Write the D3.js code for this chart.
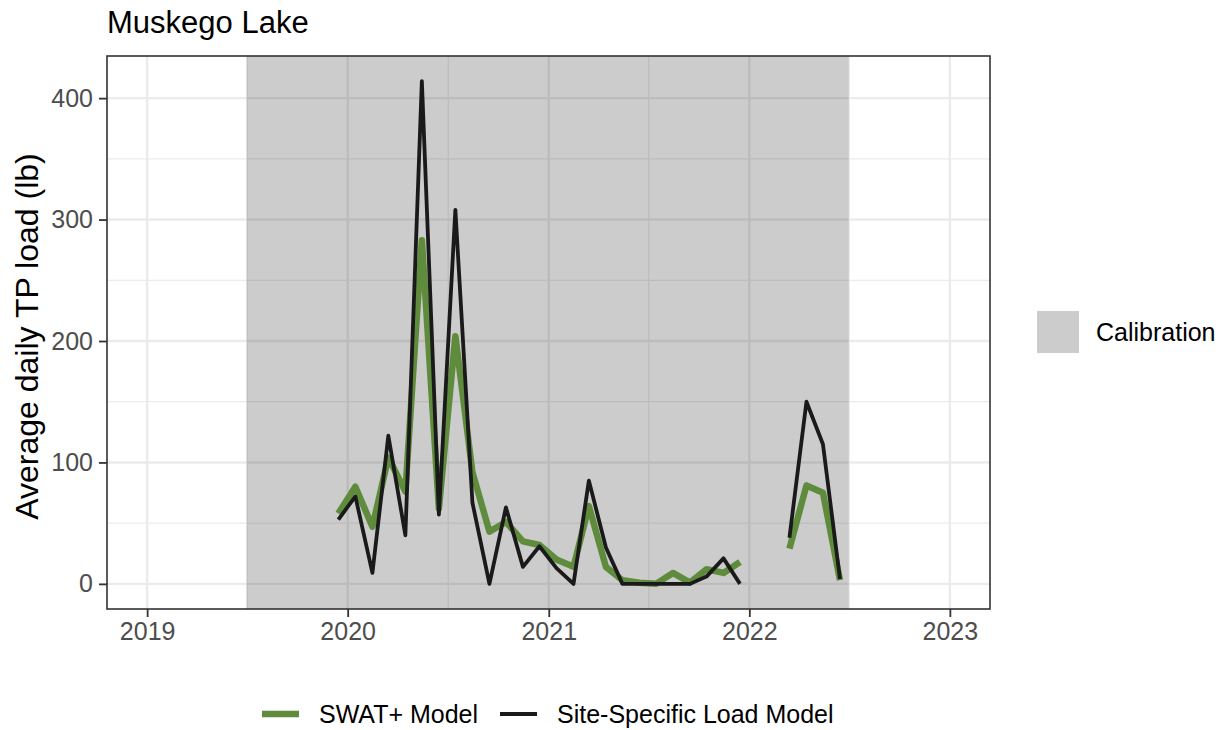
<!DOCTYPE html>
<html><head><meta charset="utf-8">
<script src="https://cdn.jsdelivr.net/npm/d3@7"></script>
<style>body{margin:0;background:#fff}svg{display:block;font-family:"Liberation Sans",Arial,sans-serif}</style>
</head><body>
<svg id="c" width="1228" height="730"></svg>
<script>
// ---- data ----
const months = ["2019-12","2020-01","2020-02","2020-03","2020-04","2020-05","2020-06","2020-07","2020-08","2020-09","2020-10","2020-11","2020-12",
  "2021-01","2021-02","2021-03","2021-04","2021-05","2021-06","2021-07","2021-08","2021-09","2021-10","2021-11","2021-12",
  "2022-01","2022-02","2022-03","2022-04","2022-05","2022-06"];
const swatValues = [58,80,47,104,76,283,62,204,92,43,51,35,32,20,14,64,14,3,1,0,9,1,12,9,18,null,null,29,81,75,3];
const siteValues = [53,72,9,122,40,414,57,308,67,0,63,14,31,13,0,85,30,0,0,0,0,0,6,21,0,null,null,38,150,115,4];
const xTickYears = [2019,2020,2021,2022,2023];
const yTicks = [0,100,200,300,400];
const yMinor = [50,150,250,350];
const calibration = ["2019-07-01","2022-07-01"];
const seriesNames = ["SWAT+ Model","Site-Specific Load Model"];
const title = "Muskego Lake";
const yTitle = "Average daily TP load (lb)";

const colors = {swat:"#5e8c3c", site:"#1a1a1a"};
const svg = d3.select("#c");
const P = {l:107, r:990, t:56, b:609};

const parse = d3.timeParse("%Y-%m-%d");
const dates = months.map(m => parse(m + "-15"));
const lim0 = new Date(2019,0,1), lim1 = new Date(2023,0,1);
const pad = (lim1 - lim0) * 0.05;
const x = d3.scaleTime().domain([new Date(+lim0 - pad), new Date(+lim1 + pad)]).range([P.l, P.r]);
const all = swatValues.concat(siteValues).filter(v => v != null);
const ymax = d3.max(all), ymin = d3.min(all), yr = ymax - ymin;
const y = d3.scaleLinear().domain([ymin - 0.05*yr, ymax + 0.05*yr]).range([P.b, P.t]);

// panel bg
svg.append("rect").attr("x",P.l).attr("y",P.t).attr("width",P.r-P.l).attr("height",P.b-P.t).attr("fill","#fff");
const g = svg.append("g");
// minor grid
const xMinor = xTickYears.map(yy => new Date(yy,6,2));
xMinor.push(new Date(2018,6,2));
g.selectAll(".vxm").data(xMinor.filter(d => x(d) > P.l && x(d) < P.r)).enter().append("line")
  .attr("x1",d=>x(d)).attr("x2",d=>x(d)).attr("y1",P.t).attr("y2",P.b).attr("stroke","#ebebeb").attr("stroke-width",1.2);
g.selectAll(".hym").data(yMinor).enter().append("line")
  .attr("x1",P.l).attr("x2",P.r).attr("y1",d=>y(d)).attr("y2",d=>y(d)).attr("stroke","#ebebeb").attr("stroke-width",1.2);
// major grid
g.selectAll(".vx").data(xTickYears).enter().append("line")
  .attr("x1",d=>x(new Date(d,0,1))).attr("x2",d=>x(new Date(d,0,1))).attr("y1",P.t).attr("y2",P.b).attr("stroke","#ebebeb").attr("stroke-width",2.4);
g.selectAll(".hy").data(yTicks).enter().append("line")
  .attr("x1",P.l).attr("x2",P.r).attr("y1",d=>y(d)).attr("y2",d=>y(d)).attr("stroke","#ebebeb").attr("stroke-width",2.4);

// calibration rect
const c0 = parse(calibration[0]), c1 = parse(calibration[1]);
svg.append("rect").attr("x",x(c0)).attr("y",P.t).attr("width",x(c1)-x(c0)).attr("height",P.b-P.t)
  .attr("fill","#000").attr("fill-opacity",0.2);

// lines
const mk = vals => d3.line().defined((d,i)=>vals[i]!=null).x((d,i)=>x(dates[i])).y((d,i)=>y(vals[i]));
svg.append("path").datum(swatValues).attr("d",mk(swatValues)).attr("fill","none").attr("stroke",colors.swat)
  .attr("stroke-width",6.5).attr("stroke-linejoin","round");
svg.append("path").datum(siteValues).attr("d",mk(siteValues)).attr("fill","none").attr("stroke",colors.site)
  .attr("stroke-width",3.8).attr("stroke-linejoin","round");

// border
svg.append("rect").attr("x",P.l).attr("y",P.t).attr("width",P.r-P.l).attr("height",P.b-P.t)
  .attr("fill","none").attr("stroke","#333").attr("stroke-width",1.6);

// axes
const xAxis = d3.axisBottom(x).tickValues(xTickYears.map(d=>new Date(d,0,1))).tickFormat(d3.timeFormat("%Y")).tickSize(8).tickPadding(5);
const xa = svg.append("g").attr("transform",`translate(0,${P.b})`).call(xAxis);
const yAxis = d3.axisLeft(y).tickValues(yTicks).tickSize(8).tickPadding(6);
const ya = svg.append("g").attr("transform",`translate(${P.l},0)`).call(yAxis);
[xa,ya].forEach(a=>{
  a.select(".domain").remove();
  a.selectAll(".tick line").attr("stroke","#333").attr("stroke-width",1.8);
  a.selectAll(".tick text").attr("fill","#4d4d4d").style("font-size","25px").style("font-family","Liberation Sans, Arial, sans-serif");
});
xa.selectAll(".tick text").attr("dy","0.71em");

// titles
svg.append("text").attr("x",P.l).attr("y",33).text(title).style("font-size","31px").attr("fill","#000");
svg.append("text").attr("transform",`translate(38,${(P.t+P.b)/2 + 4}) rotate(-90)`).attr("text-anchor","middle")
  .text(yTitle).style("font-size","32px").attr("fill","#000");

// right legend
svg.append("rect").attr("x",1037).attr("y",311).attr("width",42).attr("height",42).attr("fill","#000").attr("fill-opacity",0.2);
svg.append("text").attr("x",1096).attr("y",332).attr("dy","0.35em").text("Calibration").style("font-size","25px");

// bottom legend
const lg = svg.append("g");
const items = [{name:seriesNames[0],col:colors.swat,w:6.5,x0:262,tx:319},{name:seriesNames[1],col:colors.site,w:3.8,x0:500,tx:557}];
items.forEach(it=>{
  lg.append("line").attr("x1",it.x0).attr("x2",it.x0+37).attr("y1",714).attr("y2",714).attr("stroke",it.col).attr("stroke-width",it.w);
  lg.append("text").attr("x",it.tx).attr("y",714).attr("dy","0.35em").text(it.name).style("font-size","25px");
});
</script>
</body></html>
